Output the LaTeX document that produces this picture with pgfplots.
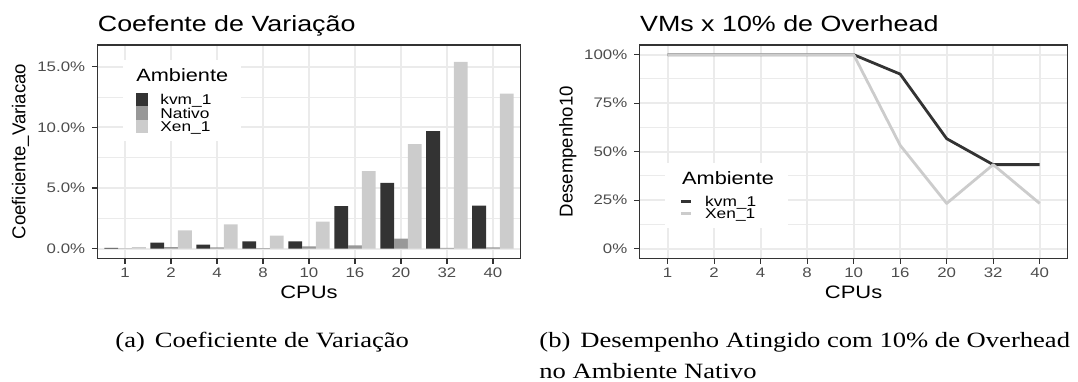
\documentclass[border=0pt]{standalone}
\usepackage{fontspec}
\setmainfont{Liberation Serif}[FakeStretch=1.22]
\newfontfamily\pf{Liberation Sans}[FakeStretch=1.22]
\newfontfamily\pfn{Liberation Sans}
\usepackage{pgfplots}
\usepackage{pgfplotstable}
\pgfplotsset{compat=1.18}
\definecolor{kvmc}{HTML}{333333}
\definecolor{natc}{HTML}{989898}
\definecolor{xenc}{HTML}{CCCCCC}
\definecolor{gridc}{HTML}{EBEBEB}
\definecolor{bordc}{HTML}{333333}
\definecolor{tickc}{HTML}{4D4D4D}

\pgfplotstableread{
x kvm nat xen
0 0.05 0.02 0.13
1 0.50 0.13 1.51
2 0.33 0.10 2.00
3 0.60 0.03 1.07
4 0.60 0.19 2.23
5 3.50 0.27 6.39
6 5.42 0.83 8.62
7 9.70 0.05 15.40
8 3.55 0.10 12.78
}\cvtable

\pgfplotstableread{
x kvm xen
0 100 100
1 100 100
2 100 100
3 100 100
4 100 100
5 90.0 53.3
6 56.7 23.3
7 43.3 43.3
8 43.3 23.3
}\vmtable

\pgfplotsset{
  ggbase/.style={
    scale only axis, height=106.65pt,
    xmin=-0.6, xmax=8.6,
    xtick={0,1,2,3,4,5,6,7,8},
    xticklabels={1,2,4,8,10,16,20,32,40},
    xtick pos=bottom, ytick pos=left, tick align=outside,
    major tick length=2.8pt, minor tick length=0pt,
    tick style={draw=bordc, line width=0.6pt},
    axis line style={draw=bordc, line width=0.6pt},
    grid=both,
    major grid style={draw=gridc, line width=1.0pt},
    minor grid style={draw=gridc, line width=0.5pt},
    tick label style={font=\pf\fontsize{6.9}{8}\selectfont, text=tickc},
    xticklabel style={anchor=base, inner sep=0pt, yshift=-6.87pt},
    yticklabel style={anchor=east, inner sep=0pt, xshift=-3.2pt},
    xlabel={CPUs},
    xlabel style={at={(axis description cs:0.5,-0.187)}, anchor=base, inner sep=0pt, font=\pf\fontsize{9}{10}\selectfont},
    every axis title/.style={at={(axis description cs:0,1.0633)}, anchor=base west, inner sep=0pt, font=\pf\fontsize{11}{13}\selectfont},
    legend cell align=left,
  }
}

\begin{document}
\begin{tikzpicture}
\useasboundingbox (0,0) rectangle (539pt,190.5pt);

% ---------- left: bars ----------
\begin{axis}[ggbase,
  at={(48.75pt,61.35pt)}, anchor=south west,
  width=211.5pt,
  ymin=-0.8, ymax=16.8,
  ytick={0,5,10,15},
  yticklabels={0.0\%,5.0\%,10.0\%,15.0\%},
  minor ytick={2.5,7.5,12.5},
  ylabel={Coeficiente\_Variacao},
  ylabel style={at={(axis description cs:-0.1705,0.5)}, anchor=base, inner sep=0pt, font=\pfn\fontsize{9.3}{10}\selectfont},
  title={Coefente de Variação},
  ybar=0pt, bar width=0.3,
  legend style={at={(axis description cs:0.0603,0.9297)}, anchor=north west,
    fill=white, draw=none, inner xsep=6.5pt, inner ysep=4.2pt,
    row sep=0pt, column sep=6.15pt,
    nodes={inner sep=0pt, text height=5.9pt, text depth=0.8pt, font=\pf\fontsize{7.1}{8}\selectfont}},
]
\addlegendimage{empty legend}
\addlegendentry[text height=6.4pt, text depth=5.65pt, font=\pf\fontsize{8.9}{10}\selectfont]{\hspace{-12pt}Ambiente}
\addplot[fill=kvmc, draw=none, bar shift=-0.3,
  legend image code/.code={\fill[kvmc] (0pt,-3.335pt) rectangle (5.85pt,3.335pt);}]
  table[x=x, y=kvm]{\cvtable};
\addlegendentry{kvm\_1}
\addplot[fill=natc, draw=none, bar shift=0,
  legend image code/.code={\fill[natc] (0pt,-3.335pt) rectangle (5.85pt,3.335pt);}]
  table[x=x, y=nat]{\cvtable};
\addlegendentry{Nativo}
\addplot[fill=xenc, draw=none, bar shift=0.3,
  legend image code/.code={\fill[xenc] (0pt,-3.335pt) rectangle (5.85pt,3.335pt);}]
  table[x=x, y=xen]{\cvtable};
\addlegendentry{Xen\_1}
\end{axis}

% ---------- right: lines ----------
\begin{axis}[ggbase,
  at={(319.85pt,61.35pt)}, anchor=south west,
  width=213.95pt,
  ymin=-5, ymax=105,
  ytick={0,25,50,75,100},
  yticklabels={0\%,25\%,50\%,75\%,100\%},
  minor ytick={12.5,37.5,62.5,87.5},
  ylabel={Desempenho10},
  ylabel style={at={(axis description cs:-0.1566,0.5)}, anchor=base, inner sep=0pt, font=\pfn\fontsize{9.3}{10}\selectfont},
  title={VMs x 10\% de Overhead},
  legend style={at={(axis description cs:0.0591,0.4468)}, anchor=north west,
    fill=white, draw=none, inner xsep=7pt, inner ysep=3.9pt,
    row sep=0pt, column sep=6.5pt,
    nodes={inner sep=0pt, text height=5.63pt, text depth=0.52pt, font=\pf\fontsize{7.1}{8}\selectfont}},
  legend image code/.code={\draw[#1] (0pt,0pt) -- (5pt,0pt);},
]
\addlegendimage{empty legend}
\addlegendentry[text height=6.4pt, text depth=5.6pt, font=\pf\fontsize{8.9}{10}\selectfont]{\hspace{-11.5pt}Ambiente}
\addplot[draw=kvmc, line width=1.4pt, line join=round, mark=none] table[x=x, y=kvm]{\vmtable};
\addlegendentry{kvm\_1}
\addplot[draw=xenc, line width=1.4pt, line join=round, mark=none] table[x=x, y=xen]{\vmtable};
\addlegendentry{Xen\_1}
\end{axis}

% ---------- captions ----------
\node[anchor=base west, inner sep=0pt, font=\fontsize{10.9}{13}\selectfont] at (57.5pt,16.75pt) {(a)\hspace{5pt}Coeficiente de Variação};
\node[anchor=base west, inner sep=0pt, font=\fontsize{10.9}{13}\selectfont] at (269.5pt,16.75pt) {(b)\hspace{5pt}Desempenho Atingido com 10\% de Overhead};
\node[anchor=base west, inner sep=0pt, font=\fontsize{10.9}{13}\selectfont] at (269.5pt,1.5pt) {no Ambiente Nativo};
\end{tikzpicture}
\end{document}
